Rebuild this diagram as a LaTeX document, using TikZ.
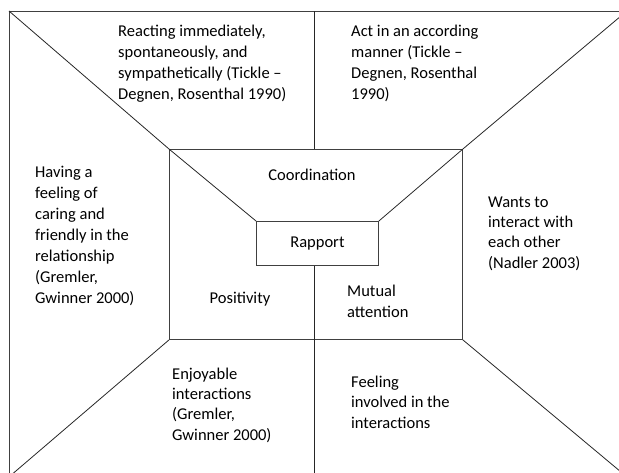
\documentclass[tikz,border=0pt]{standalone}
\usepackage{fontspec}
\setmainfont{Carlito}
\usetikzlibrary{positioning}

\begin{document}
\begin{tikzpicture}[
    x=1pt, y=-1pt,
    frame/.style={rectangle, draw=black!75, line width=0.9pt, inner sep=0pt, anchor=north west},
    edge/.style={draw=black!85, line width=0.8pt},
    core/.style={rectangle, draw=black!75, line width=0.9pt, inner sep=0pt, font=\fontsize{16.5}{21}\selectfont},
    note/.style={anchor=base west, align=left, inner sep=0pt, font=\fontsize{16.5}{21}\selectfont},
    tight/.style={note, font=\fontsize{16.5}{20.3}\selectfont},
    title/.style={anchor=base, inner sep=0pt, font=\fontsize{16.5}{21}\selectfont}
]
\useasboundingbox (0,0) rectangle (619,472);
\clip (0,0) rectangle (619,472);

% frames
\node[frame, minimum width=617pt, minimum height=465pt] (outer) at (9,11) {};
\node[frame, minimum width=293pt, minimum height=190pt] (mid) at (169,149) {};
\node[core, minimum width=122pt, minimum height=44pt, anchor=north west] (rapport) at (256,221) {Rapport};
\coordinate (axis) at (314,0);

% spokes
\draw[edge] (outer.north west) -- (mid.north west) -- (rapport.north west);
\draw[edge] (outer.north east) -- (mid.north east) -- (rapport.north east);
\draw[edge] (mid.south west) -- (outer.south west);
\draw[edge] (mid.south east) -- (outer.south east);
\draw[edge] (outer.north -| axis) -- (mid.north -| axis);
\draw[edge] (rapport.south -| axis) -- (outer.south -| axis);

% inner labels (anchored at the last line)
\node[title] (coord) at (312,180) {Coordination};
\node[title] (posit) at (240,303) {Positivity};
\node[tight] (mutual) at (347,317) {Mutual\\attention};

% outer labels
\node[note] (react) at (118,99) {Reacting immediately,\\spontaneously, and\\sympathetically (Tickle –\\Degnen, Rosenthal 1990)};
\node[note] (act) at (351,99) {Act in an according\\manner (Tickle –\\Degnen, Rosenthal\\1990)};
\node[note] (caring) at (35,303) {Having a\\feeling of\\caring and\\friendly in the\\relationship\\(Gremler,\\Gwinner 2000)};
\node[tight] (wants) at (488,268) {Wants to\\interact with\\each other\\(Nadler 2003)};
\node[tight] (enjoy) at (172,440) {Enjoyable\\interactions\\(Gremler,\\Gwinner 2000)};
\node[tight] (involved) at (351,428) {Feeling\\involved in the\\interactions};

\end{tikzpicture}
\end{document}
